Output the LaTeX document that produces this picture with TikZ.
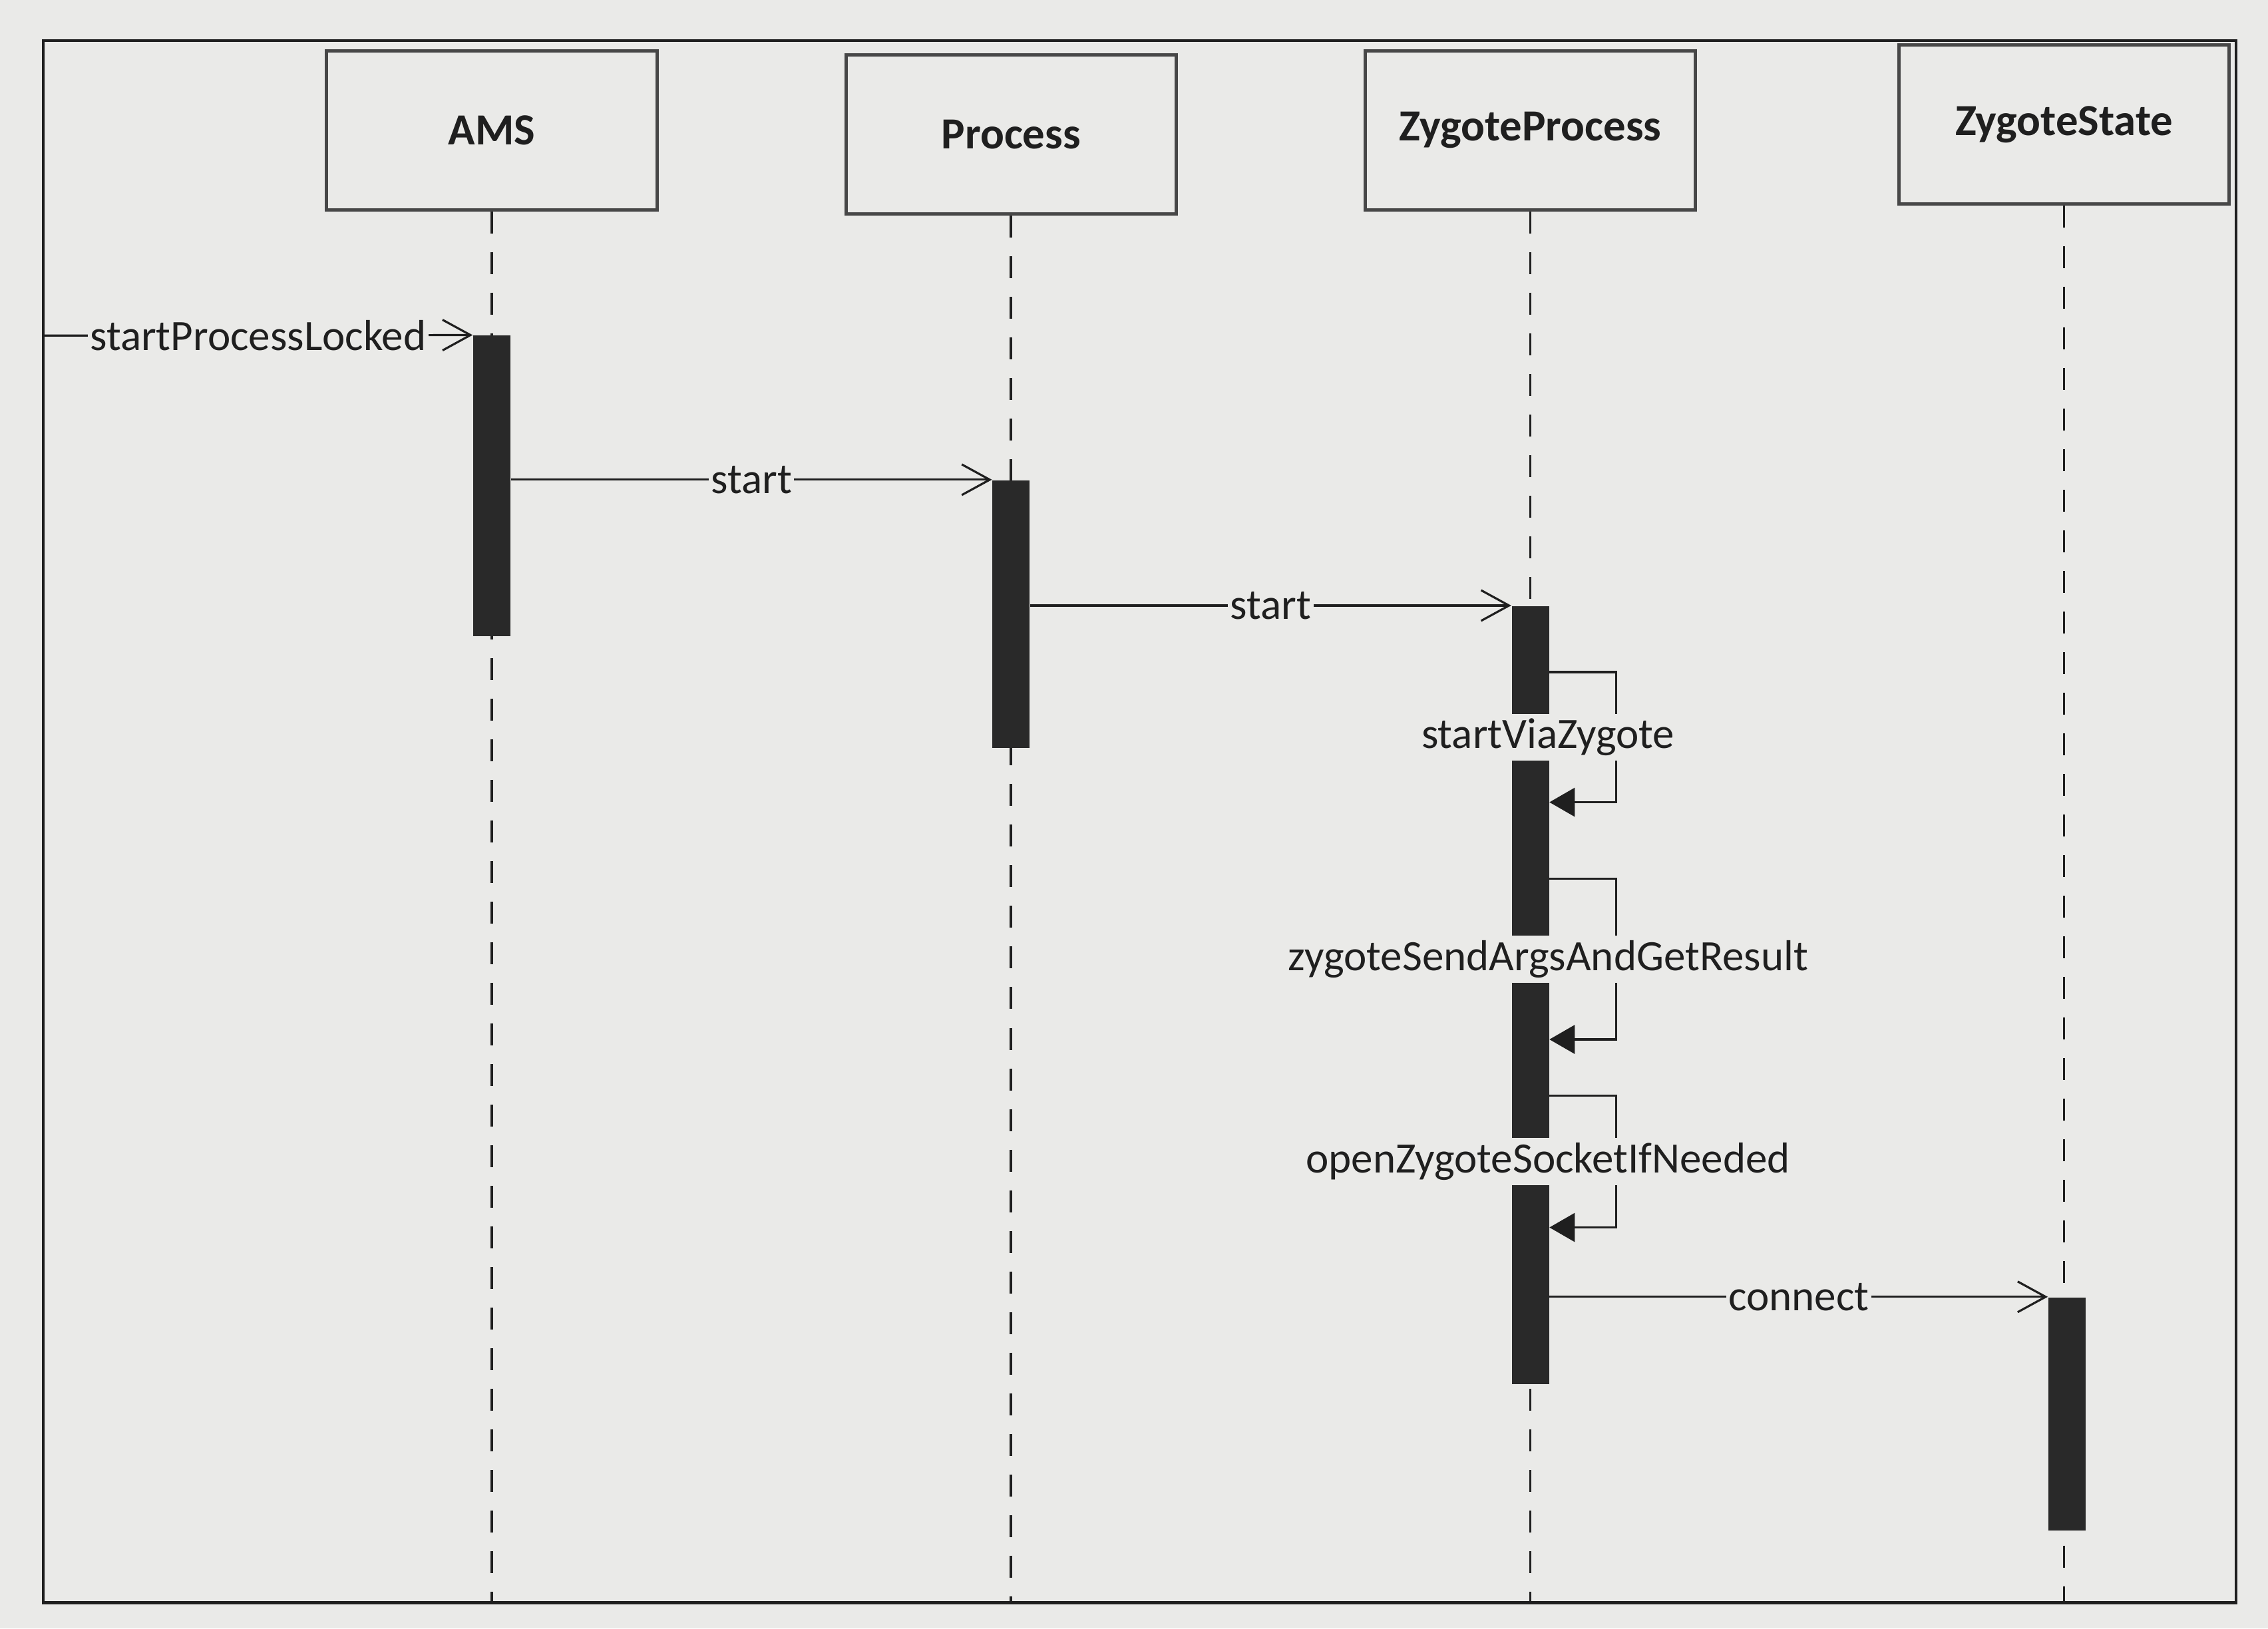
\documentclass[tikz,border=0pt]{standalone}
\usepackage{fontspec}
\setmainfont{Carlito}
\definecolor{paper_c}{rgb}{
	0.918, 0.918, 0.910
	}
\definecolor{ink_c}{rgb}{
	0.12, 0.12, 0.12
	}
\definecolor{box_c}{rgb}{
	0.28, 0.28, 0.28
	}
\definecolor{bar_c}{rgb}{
	0.16, 0.16, 0.16
	}
\usepackage{tikz}
\usetikzlibrary{arrows.meta}

\begin{document}
\begin{tikzpicture}[
			x=0.021735cm, y=-0.021735cm,
			text=ink_c,
			obj/.style = {draw=box_c, line width=1.4pt, fill=paper_c, minimum width=4.96cm, minimum height=2.39cm, font=\fontsize{19}{23}\selectfont\bfseries},
			life/.style = {draw=ink_c, line width=1.1pt, dash pattern=on 3.3mm off 2.8mm},
			bar/.style = {fill=bar_c, minimum width=0.56cm, inner sep=0pt},
			msg/.style = {draw=ink_c, line width=0.9pt, -{Straight Barb[length=4.2mm,width=4.6mm]}},
			self/.style = {draw=ink_c, line width=0.9pt, -{Triangle[length=3.8mm,width=4.3mm]}},
			lbl/.style = {fill=paper_c, inner xsep=1pt, inner ysep=2pt, font=\fontsize{18.5}{22}\selectfont},
			]
			\fill[paper_c] (0,0) rectangle (1568,1126);
			\useasboundingbox (0,0) rectangle (1568,1126);
			\draw[ink_c, line width=1.3pt] (30,28) rectangle (1546,1108);
			\coordinate (floor) at (0,1108);
			\coordinate (entry) at (30,232);
			\node[obj] (ams) at (340,90) {AMS};
			\node[obj] (proc) at (699,93) {Process};
			\node[obj] (zproc) at (1058,90) {ZygoteProcess};
			\node[obj] (zstate) at (1427,86) {ZygoteState};
			% lifelines
			\foreach \n in {ams, proc, zproc, zstate}
				\draw[life] (\n.south) -- (\n.south |- floor);
			% activations
			\node[bar, minimum height=4.52cm] (amsbar) at (340,336) {};
			\node[bar, minimum height=4.02cm] (procbar) at (699,424.5) {};
			\node[bar, minimum height=11.69cm] (zprocbar) at (1058,688) {};
			\node[bar, minimum height=3.50cm] (zstatebar) at (1429,977.5) {};
			% calls
			\draw[msg] (entry) -- node[lbl] {startProcessLocked} (amsbar.north west);
			\draw[msg] (amsbar.east |- procbar.north) -- node[lbl] {start} (procbar.north west);
			\draw[msg] (procbar.east |- zprocbar.north) -- node[lbl] {start} (zprocbar.north west);
			\foreach \ya/\yb/\lab in {46/136/startViaZygote, 189/300/zygoteSendArgsAndGetResult, 339/430/openZygoteSocketIfNeeded}
				\draw[self] (zprocbar.north east) ++(0,\ya) -- ++(46,0) -- node[lbl, xshift=-1.02cm] {\lab} ++(0,\yb-\ya) -- ++(-46,0);
			\draw[msg] (zprocbar.east |- zstatebar.north) -- node[lbl] {connect} (zstatebar.north west);
		\end{tikzpicture}
\end{document}
